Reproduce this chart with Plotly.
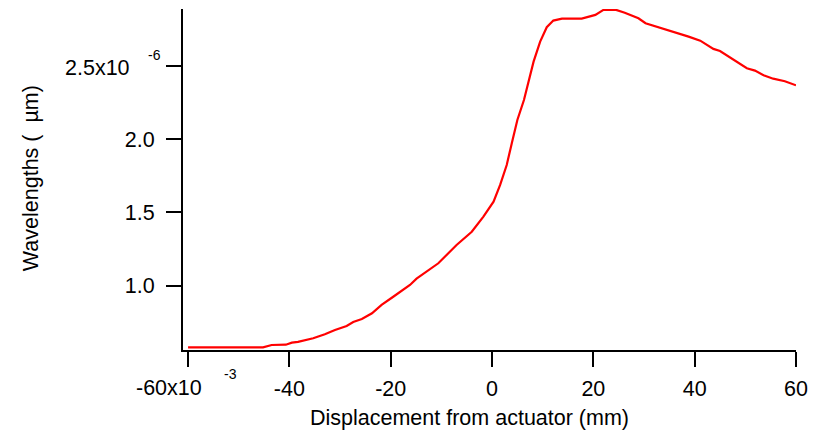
import plotly.graph_objects as go

# Data (displacement in mm, wavelength in µm)
displacement_mm = [-60, -45.2, -43.5, -40.7, -39.5, -38.3, -35.3, -33.0, -31.0, -28.7,
                   -27.4, -25.7, -23.7, -21.8, -19.5, -17.8, -16.2, -14.9, -12.6, -10.6,
                   -7.0, -5.0, -4.0, -1.7, 0.3, 1.6, 2.9, 3.9, 5.0, 6.3,
                   6.8, 8.2, 9.5, 10.8, 12.1, 13.8, 17.7, 20.4, 22.0, 24.5,
                   26.2, 27.6, 28.9, 30.3, 32.5, 34.5, 36.8, 38.8, 41.1, 43.7,
                   45.0, 47.7, 50.3, 51.9, 53.6, 55.5, 57.8, 60.0]
wavelength_um = [0.580, 0.580, 0.596, 0.598, 0.612, 0.617, 0.642, 0.669, 0.698, 0.726,
                 0.753, 0.773, 0.812, 0.870, 0.925, 0.964, 1.005, 1.048, 1.107, 1.153,
                 1.278, 1.334, 1.368, 1.471, 1.573, 1.687, 1.823, 1.971, 2.130, 2.266,
                 2.334, 2.527, 2.664, 2.762, 2.807, 2.820, 2.820, 2.846, 2.880, 2.880,
                 2.861, 2.839, 2.823, 2.789, 2.766, 2.743, 2.716, 2.698, 2.670, 2.614,
                 2.600, 2.539, 2.482, 2.466, 2.434, 2.411, 2.394, 2.366]

x_tickvals = [-60, -40, -20, 0, 20, 40, 60]
x_ticktext = ["", "-40", "-20", "0", "20", "40", "60"]
y_tickvals = [1.0, 1.5, 2.0, 2.5]
y_ticktext = ["1.0", "1.5", "2.0", ""]

FONT = "Liberation Sans, Arial, sans-serif"
FS = 21.5

fig = go.Figure()
fig.add_trace(go.Scatter(x=displacement_mm, y=wavelength_um, mode="lines",
                         line=dict(color="#ff0000", width=2.2), showlegend=False,
                         hoverinfo="skip"))

fig.update_layout(
    width=823, height=431,
    margin=dict(l=183, r=27, t=9, b=81),
    paper_bgcolor="white", plot_bgcolor="white",
    font=dict(family=FONT, size=FS, color="black"),
    xaxis=dict(range=[-61, 60], tickvals=x_tickvals, ticktext=x_ticktext,
               showgrid=False, zeroline=False, showline=True, linecolor="black",
               linewidth=2, ticks="outside", ticklen=15, tickwidth=2, tickcolor="black",
               ticklabelstandoff=3, tickfont=dict(size=FS)),
    yaxis=dict(range=[0.562, 2.886], tickvals=y_tickvals, ticktext=y_ticktext,
               showgrid=False, zeroline=False, showline=True, linecolor="black",
               linewidth=2, ticks="outside", ticklen=15, tickwidth=2, tickcolor="black",
               ticklabelstandoff=7, tickfont=dict(size=FS)),
)

ann = [
    dict(text="-60x10", xref="x", x=-60, yref="paper", y=0, xshift=-19, yshift=-38,
         xanchor="center", yanchor="middle", showarrow=False, font=dict(size=FS)),
    dict(text="-3", xref="x", x=-60, yref="paper", y=0, xshift=42, yshift=-24,
         xanchor="center", yanchor="middle", showarrow=False, font=dict(size=14)),
    dict(text="2.5x10", xref="paper", x=0, yref="y", y=2.5, xshift=-51, yshift=-2,
         xanchor="right", yanchor="middle", showarrow=False, font=dict(size=FS)),
    dict(text="-6", xref="paper", x=0, yref="y", y=2.5, xshift=-20, yshift=11,
         xanchor="right", yanchor="middle", showarrow=False, font=dict(size=14)),
    dict(text="Displacement from actuator (mm)", xref="paper", x=0.4666, yref="paper", y=0,
         yshift=-68, xanchor="center", yanchor="middle", showarrow=False, font=dict(size=FS)),
    dict(text="Wavelengths (  µm)", xref="paper", x=0, yref="paper", y=0.504,
         xshift=-152, textangle=-90, xanchor="center", yanchor="middle",
         showarrow=False, font=dict(size=FS)),
]
fig.update_layout(annotations=ann)

fig.write_html("out.html", config={"displayModeBar": False},
               post_script="document.body.style.margin='0';document.body.style.overflow='hidden';")
